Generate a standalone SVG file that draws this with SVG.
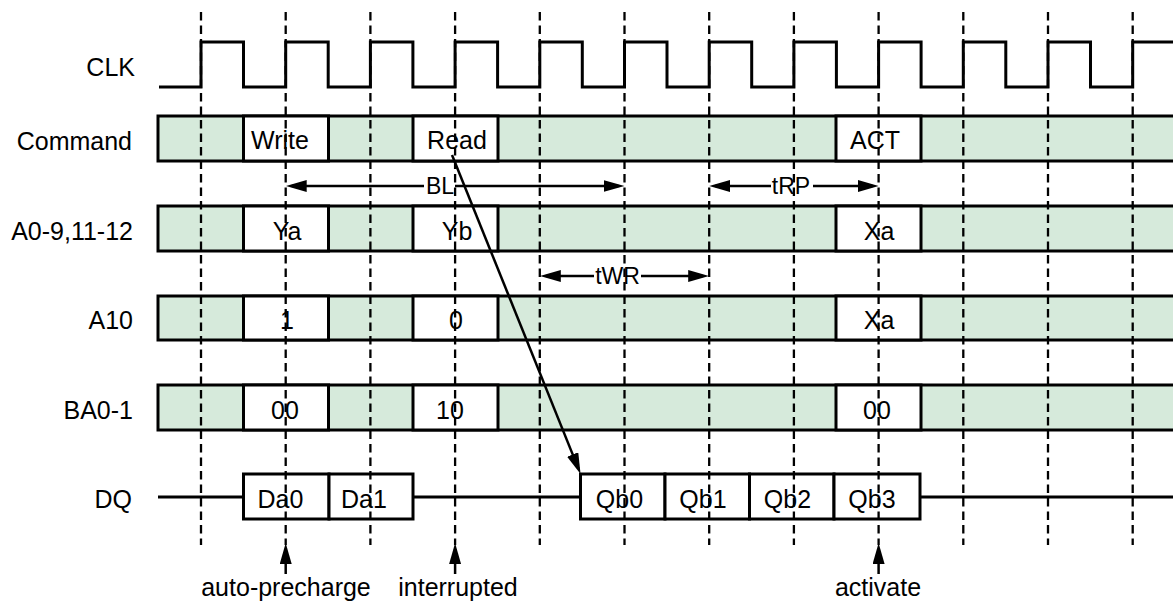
<svg xmlns="http://www.w3.org/2000/svg" width="1173" height="603" viewBox="0 0 1173 603">
<style>
.lbl{font-family:"Liberation Sans",Arial,sans-serif;font-size:25px;fill:#000}
.end{text-anchor:end}
.mid{text-anchor:middle}
.dim{font-family:"Liberation Sans",Arial,sans-serif;font-size:23px;fill:#000;text-anchor:middle}
.band{fill:#d6eadb;stroke:#000;stroke-width:3}
.box{fill:#fff;stroke:#000;stroke-width:3}
.wire{fill:none;stroke:#000;stroke-width:3}
.grid{stroke:#000;stroke-width:2.3;stroke-dasharray:8.5 5}
.arr{stroke:#000;stroke-width:2.5;fill:none}
</style>
<defs>
<marker id="ah" viewBox="0 0 21 12" refX="15" refY="6" markerWidth="21" markerHeight="12" markerUnits="userSpaceOnUse" orient="auto-start-reverse">
<path d="M0,0 L21,6 L0,12 z" fill="#000"/>
</marker>
</defs>
<rect width="1173" height="603" fill="#fff"/>

<g id="clk">
<text class="lbl end" x="135" y="76">CLK</text>
<path class="wire" d="M159,87 H201 V42 H243.5 V87 H285.7 V42 H328.2 V87 H370.4 V42 H412.9 V87 H455.1 V42 H497.6 V87 H539.8 V42 H582.3 V87 H624.5 V42 H667 V87 H709.2 V42 H751.7 V87 H793.9 V42 H836.4 V87 H878.6 V42 H921.1 V87 H963.3 V42 H1005.8 V87 H1048 V42 H1090.5 V87 H1132.7 V42 H1180"/>
</g>

<g id="command">
<text class="lbl end" x="132" y="150">Command</text>
<rect class="band" x="158" y="116" width="1030" height="45"/>
<rect class="box" x="243.5" y="116" width="85" height="45"/>
<rect class="box" x="413" y="116" width="85" height="45"/>
<rect class="box" x="836" y="116" width="85" height="45"/>
<text class="lbl mid" x="280" y="149">Write</text>
<text class="lbl mid" x="457" y="149">Read</text>
<text class="lbl mid" x="875" y="149">ACT</text>
</g>

<g id="addr">
<text class="lbl end" x="133" y="240">A0-9,11-12</text>
<rect class="band" x="158" y="206" width="1030" height="45"/>
<rect class="box" x="243.5" y="206" width="85" height="45"/>
<rect class="box" x="413" y="206" width="85" height="45"/>
<rect class="box" x="836" y="206" width="85" height="45"/>
<text class="lbl mid" x="287" y="240">Ya</text>
<text class="lbl mid" x="457" y="240">Yb</text>
<text class="lbl mid" x="879" y="240">Xa</text>
</g>

<g id="a10">
<text class="lbl end" x="133" y="329">A10</text>
<rect class="band" x="158" y="296" width="1030" height="44"/>
<rect class="box" x="243.5" y="296" width="85" height="44"/>
<rect class="box" x="413" y="296" width="85" height="44"/>
<rect class="box" x="836" y="296" width="85" height="44"/>
<text class="lbl mid" x="287" y="329">1</text>
<text class="lbl mid" x="456" y="329">0</text>
<text class="lbl mid" x="879" y="329">Xa</text>
</g>

<g id="ba">
<text class="lbl end" x="133" y="419">BA0-1</text>
<rect class="band" x="158" y="385" width="1030" height="45"/>
<rect class="box" x="243.5" y="385" width="85" height="45"/>
<rect class="box" x="413" y="385" width="85" height="45"/>
<rect class="box" x="836" y="385" width="85" height="45"/>
<text class="lbl mid" x="285" y="419">00</text>
<text class="lbl mid" x="450" y="419">10</text>
<text class="lbl mid" x="877" y="419">00</text>
</g>

<g id="dq">
<text class="lbl end" x="132" y="508">DQ</text>
<path class="wire" d="M158,497 H243.5 M413,497 H580.5 M920,497 H1180"/>
<rect class="box" x="243.5" y="474" width="85.5" height="45"/>
<rect class="box" x="329" y="474" width="84" height="45"/>
<rect class="box" x="580.5" y="474" width="84.5" height="45"/>
<rect class="box" x="665" y="474" width="84.5" height="45"/>
<rect class="box" x="749.5" y="474" width="84.5" height="45"/>
<rect class="box" x="834" y="474" width="86" height="45"/>
<text class="lbl mid" x="280.5" y="508">Da0</text>
<text class="lbl mid" x="364" y="508">Da1</text>
<text class="lbl mid" x="619.5" y="508">Qb0</text>
<text class="lbl mid" x="703" y="508">Qb1</text>
<text class="lbl mid" x="787.5" y="508">Qb2</text>
<text class="lbl mid" x="872" y="508">Qb3</text>
</g>

<g id="connectors">
<line class="arr" x1="291.7" y1="186" x2="618.5" y2="186" marker-start="url(#ah)" marker-end="url(#ah)"/>
<rect x="424" y="177" width="31" height="18" fill="#fff"/>
<text class="dim" x="440" y="194">BL</text>
<line class="arr" x1="715.2" y1="186" x2="872.6" y2="186" marker-start="url(#ah)" marker-end="url(#ah)"/>
<rect x="771" y="177" width="42" height="18" fill="#fff"/>
<text class="dim" x="791" y="194">tRP</text>
<line class="arr" x1="545.8" y1="276" x2="703.2" y2="276" marker-start="url(#ah)" marker-end="url(#ah)"/>
<rect x="594" y="267" width="47" height="18" fill="#fff"/>
<text class="dim" x="617.5" y="284">tWR</text>
</g>

<g id="grid">
<line class="grid" x1="201" y1="12" x2="201" y2="545"/>
<line class="grid" x1="285.7" y1="12" x2="285.7" y2="545"/>
<line class="grid" x1="370.4" y1="12" x2="370.4" y2="545"/>
<line class="grid" x1="455.1" y1="12" x2="455.1" y2="545"/>
<line class="grid" x1="539.8" y1="12" x2="539.8" y2="545"/>
<line class="grid" x1="624.5" y1="12" x2="624.5" y2="545"/>
<line class="grid" x1="709.2" y1="12" x2="709.2" y2="545"/>
<line class="grid" x1="793.9" y1="12" x2="793.9" y2="545"/>
<line class="grid" x1="878.6" y1="12" x2="878.6" y2="545"/>
<line class="grid" x1="963.3" y1="12" x2="963.3" y2="545"/>
<line class="grid" x1="1048" y1="12" x2="1048" y2="545"/>
<line class="grid" x1="1132.7" y1="12" x2="1132.7" y2="545"/>
</g>

<g id="read-arrow">
<line class="arr" x1="452" y1="155" x2="578.3" y2="468.4" stroke-width="3" marker-end="url(#ah)"/>
</g>

<g id="notes">
<line class="arr" x1="285.7" y1="574" x2="285.7" y2="549" marker-end="url(#ah)"/>
<line class="arr" x1="455.1" y1="574" x2="455.1" y2="549" marker-end="url(#ah)"/>
<line class="arr" x1="878.6" y1="574" x2="878.6" y2="549" marker-end="url(#ah)"/>
<text class="lbl mid" x="286" y="596">auto-precharge</text>
<text class="lbl mid" x="458" y="596">interrupted</text>
<text class="lbl mid" x="878" y="596">activate</text>
</g>
</svg>
